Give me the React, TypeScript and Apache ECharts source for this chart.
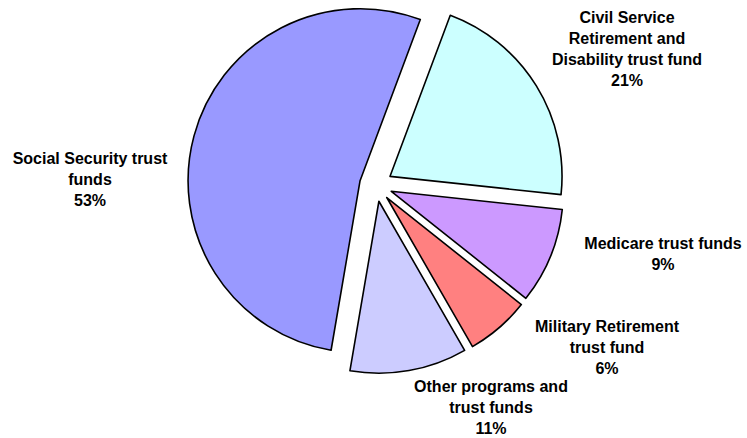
import React, { useEffect, useRef } from "react";
import * as echarts from "echarts";

const categories = [
  "Civil Service\nRetirement and\nDisability trust fund",
  "Medicare trust funds",
  "Military Retirement\ntrust fund",
  "Other programs and\ntrust funds",
  "Social Security trust\nfunds",
];
const shares = [21, 9, 6, 11, 53];
const colors = ["#CCFFFF", "#CC99FF", "#FF8080", "#CCCCFF", "#9999FF"];

// label block centres (layout, not data)
const labelCenters: [number, number][] = [
  [627, 49],
  [663, 254],
  [607, 347],
  [491, 407],
  [90, 179],
];

export default function App() {
  const ref = useRef<HTMLDivElement>(null);
  useEffect(() => {
    if (!ref.current) return;
    const chart = echarts.init(ref.current, null, { renderer: "svg" });
    chart.setOption({
      animation: false,
      backgroundColor: "#ffffff",
      graphic: categories.map((name, i) => ({
        type: "text",
        x: labelCenters[i][0],
        y: labelCenters[i][1],
        silent: true,
        style: {
          text: `${name}\n${shares[i]}%`,
          fontFamily: "'Liberation Sans', Arial, sans-serif",
          fontWeight: "bold",
          fontSize: 16,
          lineHeight: 21,
          fill: "#000000",
          align: "center",
          verticalAlign: "middle",
        },
      })),
      series: [
        {
          type: "pie",
          center: [376, 185],
          radius: 172,
          startAngle: 69.5,
          clockwise: true,
          selectedMode: "multiple",
          selectedOffset: 16.5,
          avoidLabelOverlap: false,
          emphasis: { disabled: true },
          itemStyle: { borderColor: "#000000", borderWidth: 1.6 },
          labelLine: { show: false },
          label: { show: false },
          data: categories.map((name, i) => ({
            name,
            value: shares[i],
            selected: true,
            itemStyle: { color: colors[i] },
          })),
        },
      ],
    });
    return () => chart.dispose();
  }, []);
  return (
    <div
      ref={ref}
      style={{ position: "absolute", left: 0, top: 0, width: 747, height: 438 }}
    />
  );
}
